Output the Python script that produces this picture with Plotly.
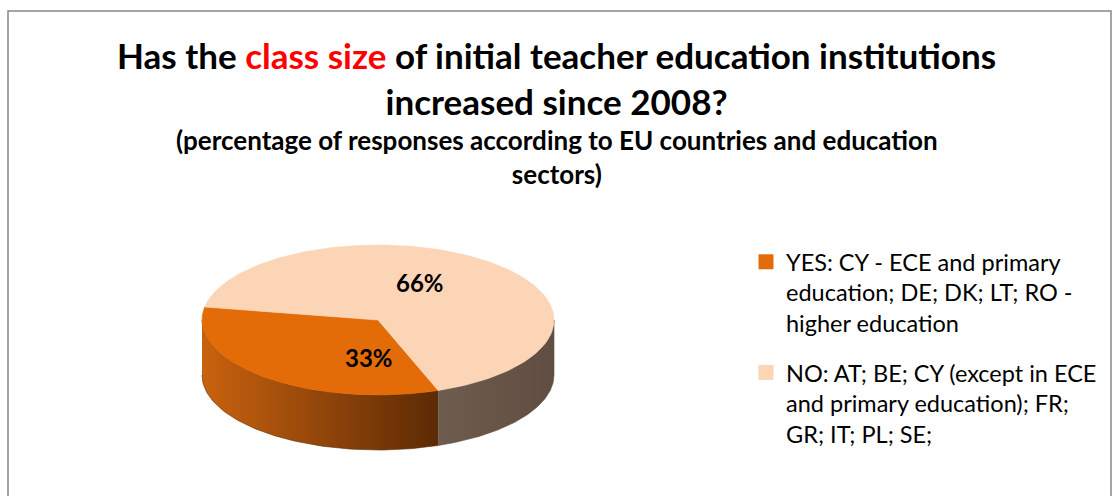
import numpy as np
import plotly.graph_objects as go

# Survey answers and their shares (percent of responses)
categories = ["YES", "NO"]
values = [33, 66]
legend_texts = [
    "YES: CY - ECE and primary<br>education; DE; DK; LT; RO -<br>higher education",
    "NO: AT; BE; CY (except in ECE<br>and primary education); FR;<br>GR; IT; PL; SE;",
]
top_colors = ["#E36C09", "#FBD5B5"]
side_colors = [["#C9620E", "#5C2A05"], ["#6E5C4E", "#5F4E41"]]

W, H = 1113, 496
FONT = "Lato, 'Open Sans', sans-serif"

# 3-D pie geometry (pixel space, y grows downward)
cx, cy, rx, ry, depth = 378, 320, 176, 75, 55
start_deg = 170.0  # first slice begins here and runs counter-clockwise


def pt(theta_deg, dy=0.0):
    t = np.radians(theta_deg)
    return cx + rx * np.cos(t), cy - ry * np.sin(t) + dy


total = float(sum(values))
bounds = []
a = start_deg
for v in values:
    b = a + 360.0 * v / total
    bounds.append((a, b))
    a = b

fig = go.Figure()

# side walls: only the front half (180..360 deg) is visible
for (a0, a1), cols in zip(bounds, side_colors):
    segs = []
    for off in (0.0, 360.0, -360.0):
        lo, hi = max(a0 + off, 180.0), min(a1 + off, 360.0)
        if hi > lo:
            segs.append((lo, hi))
    for lo, hi in segs:
        th = np.linspace(lo, hi, 80)
        xs_top, ys_top = pt(th)
        xs_bot, ys_bot = pt(th[::-1], depth)
        xs = np.concatenate([xs_top, xs_bot])
        ys = np.concatenate([ys_top, ys_bot])
        fig.add_trace(go.Scatter(
            x=xs, y=ys, mode="lines", fill="toself",
            line=dict(width=0.6, color=cols[1]),
            fillgradient=dict(type="horizontal",
                              colorscale=[[0, cols[0]], [1, cols[1]]]),
            hoverinfo="skip", showlegend=False))

# top faces
for (a0, a1), col in zip(bounds, top_colors):
    th = np.linspace(a0, a1, 160)
    xs, ys = pt(th)
    xs = np.concatenate([[cx], xs, [cx]])
    ys = np.concatenate([[cy], ys, [cy]])
    fig.add_trace(go.Scatter(
        x=xs, y=ys, mode="lines", fill="toself", fillcolor=col,
        line=dict(width=0.6, color=col), hoverinfo="skip", showlegend=False))

# percentage labels placed inside each slice
label_shift = [(0.08, 0.65), (0.37, 0.65)]
for (a0, a1), v, (kx, ky) in zip(bounds, values, label_shift):
    mid = np.radians((a0 + a1) / 2)
    lx = cx + kx * rx * np.cos(mid)
    ly = cy - ky * ry * np.sin(mid)
    fig.add_annotation(x=lx, y=ly, text=f"<b>{v}%</b>", showarrow=False,
                       font=dict(family=FONT, size=24, color="#000000"))

# legend entries
for i, (name, col) in enumerate(zip(legend_texts, top_colors)):
    fig.add_trace(go.Scatter(
        x=[None], y=[None], mode="markers", name=name, legendgroup=f"g{i}",
        marker=dict(symbol="square", size=15, color=col)))

# titles
fig.add_annotation(
    x=W / 2, y=78, xref="x", yref="y", showarrow=False,
    text=("<b>Has the <span style='color:#FF0000'>class size</span> of initial "
          "teacher education institutions<br>increased since 2008?</b>"),
    font=dict(family=FONT, size=35, color="#000000"))
fig.add_annotation(
    x=W / 2, y=157, xref="x", yref="y", showarrow=False,
    text=("<b>(percentage of responses according to EU countries and education"
          "<br>sectors)</b>"),
    font=dict(family=FONT, size=26, color="#000000"))

# chart frame
fig.add_shape(type="rect", x0=8, y0=11, x1=1111, y1=520, xref="x", yref="y",
              line=dict(color="#878787", width=1.5), layer="below")

fig.update_layout(
    width=W, height=H, margin=dict(l=0, r=0, t=0, b=0),
    paper_bgcolor="white", plot_bgcolor="white",
    xaxis=dict(range=[0, W], visible=False, fixedrange=True),
    yaxis=dict(range=[H, 0], visible=False, fixedrange=True),
    showlegend=True,
    legend=dict(x=746 / W, y=1 - 240 / H, xanchor="left", yanchor="top",
                valign="top", tracegroupgap=16, bgcolor="rgba(0,0,0,0)",
                font=dict(family=FONT, size=23.5, color="#000000")),
)

fig.write_html("out.html")
